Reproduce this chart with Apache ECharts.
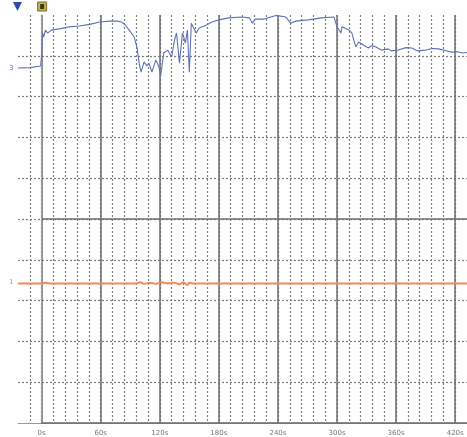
<!DOCTYPE html>
<html><head><meta charset="utf-8">
<script src="https://cdn.jsdelivr.net/npm/echarts@6/dist/echarts.min.js"></script>
<style>html,body{margin:0;padding:0;background:#fff}#c{width:467px;height:437px}</style>
</head><body><div id="c"></div>
<script>
// time axis (seconds) and values in screen divisions (0..10)
const xMin = -24, xMax = 432;
const majorStep = 60, minorStep = 12;
const divMin = 0, divMax = 10;

const ch3Name = '3';
const ch3Times = [-24,-12,-1,0,1,2,4,6,10,18,28,38,49,59,69,77,81,84,89,94,97,99,101,104,107,109,112,116,119,121,124,128,132,135,137,140,143,146,148,150,152,157,160,167,173,180,190,203,211,214,217,226,238,248,253,258,271,284,297,300,304,305,307,312,315,319,322,327,332,335,339,345,352,355,362,370,376,382,390,397,403,410,416,422,428,432];
const ch3Values = [8.70,8.71,8.75,9.02,9.56,9.46,9.63,9.56,9.63,9.66,9.71,9.73,9.77,9.83,9.85,9.85,9.83,9.78,9.63,9.46,9.19,8.82,8.60,8.85,8.75,8.82,8.60,8.90,8.73,8.53,9.07,9.14,8.97,9.39,9.56,8.82,9.56,9.31,9.63,8.60,9.80,9.56,9.68,9.75,9.83,9.88,9.93,9.95,9.93,9.80,9.90,9.90,9.99,9.95,9.80,9.85,9.88,9.93,9.95,9.71,9.56,9.71,9.71,9.63,9.56,9.22,9.34,9.26,9.19,9.25,9.22,9.14,9.17,9.12,9.14,9.20,9.19,9.12,9.14,9.18,9.17,9.13,9.09,9.10,9.07,9.08];

const ch1Name = '1';
const ch1Times = [-24,0,4,8,96,100,104,110,116,122,128,134,140,144,148,150,154,432];
const ch1Values = [3.42,3.42,3.44,3.42,3.42,3.45,3.41,3.44,3.41,3.45,3.42,3.44,3.40,3.45,3.38,3.44,3.42,3.42];

const pair = (a, b) => a.map((t, i) => [t, b[i]]);

const W = 467, H = 437;
const gLeft = 18, gRight = 0, gTop = 15, gBottom = 14;
const pxPerSec = (W - gLeft - gRight) / (xMax - xMin);
const majorLeft = gLeft + (0 - xMin) * pxPerSec;

const minorLine = {color: '#7c7c7c', width: 1.2, type: [2, 2]};
const majorLine = {color: '#6e6e6e', width: 1.5, type: 'solid'};

const chart = echarts.init(document.getElementById('c'));
chart.setOption({
  animation: false,
  backgroundColor: '#fff',
  grid: [
    {left: gLeft, right: gRight, top: gTop, bottom: gBottom},
    {left: majorLeft, right: gRight, top: gTop, bottom: gBottom}
  ],
  xAxis: [
    {type: 'value', gridIndex: 0, position: 'top', min: xMin, max: xMax, interval: minorStep,
     axisLine: {show: true, lineStyle: {color: '#9a9a9a', width: 1}}, axisTick: {show: false}, axisLabel: {show: false},
     splitLine: {show: true, showMinLine: false, showMaxLine: false, lineStyle: minorLine}},
    {type: 'value', gridIndex: 1, min: 0, max: xMax, interval: majorStep,
     axisLine: {show: true, lineStyle: {color: '#6a6a6a', width: 1.5}}, axisTick: {show: false},
     axisLabel: {show: true, showMaxLabel: false, margin: 7, fontSize: 7, color: '#777', fontFamily: 'DejaVu Sans',
       formatter: v => v + 's'},
     splitLine: {show: true, showMaxLine: false, lineStyle: majorLine}}
  ],
  yAxis: [
    {type: 'value', gridIndex: 0, min: divMin, max: divMax, interval: 1,
     axisLine: {show: true, lineStyle: {color: '#a0a0a0', width: 1}}, axisTick: {show: false}, axisLabel: {show: false},
     splitLine: {show: true, showMinLine: false, showMaxLine: false, lineStyle: minorLine}},
    {type: 'value', gridIndex: 1, min: divMin, max: divMax, interval: 5,
     axisLine: {show: false}, axisTick: {show: false}, axisLabel: {show: false},
     splitLine: {show: true, showMinLine: false, showMaxLine: false, lineStyle: majorLine}}
  ],
  series: [
    {name: ch1Name, type: 'line', xAxisIndex: 0, yAxisIndex: 0, data: pair(ch1Times, ch1Values),
     showSymbol: false, lineStyle: {color: '#f28a5e', width: 2}, z: 5},
    {name: ch3Name, type: 'line', xAxisIndex: 0, yAxisIndex: 0, data: pair(ch3Times, ch3Values),
     showSymbol: false, lineStyle: {color: '#5f72b6', width: 1.1}, z: 6}
  ]
});

const px = (t, v) => chart.convertToPixel({xAxisIndex: 0, yAxisIndex: 0}, [t, v]);
const p3 = px(ch3Times[0], ch3Values[0]);
const p1 = px(ch1Times[0], ch1Values[0]);
const pTrig = px(0, divMax);
const pLeft = px(xMin, divMax);
chart.setOption({
  graphic: [
    {type: 'text', left: p3[0] - 9, top: p3[1] - 3, style: {text: ch3Name, fill: '#5f72b6', fontSize: 7, fontFamily: 'DejaVu Sans'}},
    {type: 'text', left: p1[0] - 9, top: p1[1] - 5, style: {text: ch1Name, fill: '#f28a5e', fontSize: 7, fontFamily: 'DejaVu Sans'}},
    {type: 'polygon', shape: {points: [[pLeft[0] - 5, 2], [pLeft[0] + 4, 2], [pLeft[0] - 0.5, 11]]}, style: {fill: '#2d4f9e'}},
    {type: 'rect', shape: {x: pTrig[0] - 4, y: 2, width: 9, height: 9}, style: {fill: '#c9b24a', stroke: '#7a6a20', lineWidth: 1}},
    {type: 'rect', shape: {x: pTrig[0] - 1.5, y: 4, width: 4, height: 5}, style: {fill: '#3a3a20'}}
  ]
});
</script></body></html>
